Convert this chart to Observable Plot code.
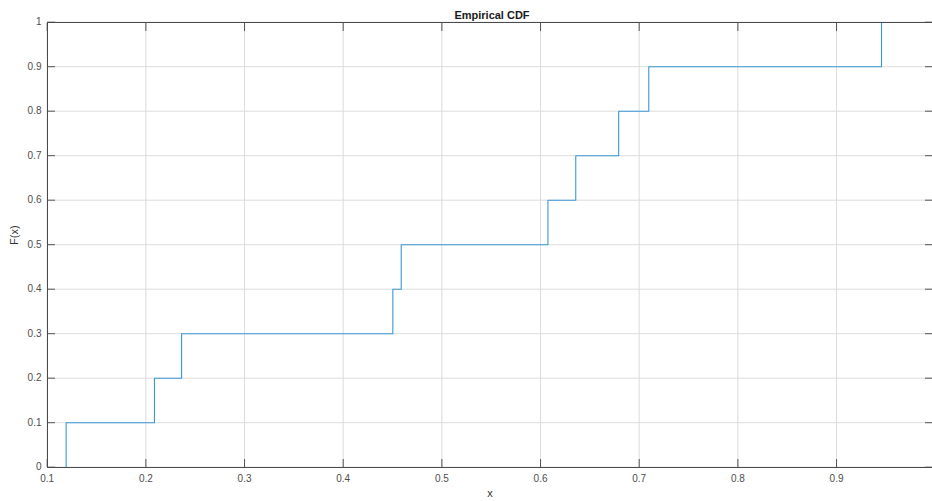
<!DOCTYPE html>
<html>
<head>
<meta charset="utf-8">
<script src="https://cdn.jsdelivr.net/npm/d3@7"></script>
<script src="https://cdn.jsdelivr.net/npm/@observablehq/plot@0.6"></script>
<style>
  html, body { margin: 0; padding: 0; background: #fff; }
  #chart svg { display: block; overflow: visible; }
</style>
</head>
<body>
<div id="chart"></div>
<script>
// Sorted sample values (jump locations of the empirical CDF)
const sampleX = [0.1192, 0.2087, 0.2362, 0.4503, 0.4588, 0.6075, 0.6357, 0.6792, 0.7097, 0.9456];
// CDF level reached at each jump
const cdfF = [0.1, 0.2, 0.3, 0.4, 0.5, 0.6, 0.7, 0.8, 0.9, 1.0];
const xTicks = [0.1, 0.2, 0.3, 0.4, 0.5, 0.6, 0.7, 0.8, 0.9];
const yTicks = [0, 0.1, 0.2, 0.3, 0.4, 0.5, 0.6, 0.7, 0.8, 0.9, 1];
const titleText = "Empirical CDF";
const xLabel = "x";
const yLabel = "F(x)";

// stairs: start at (x0, 0), then each (x_i, F_i)
const stairs = [{x: sampleX[0], y: 0}].concat(sampleX.map((x, i) => ({x, y: cdfF[i]})));

const W = 932, H = 501;
const mL = 47, mT = 22, mB = 34;
const fmt = d3.format("~g");
const font = "'Liberation Sans', Arial, Helvetica, sans-serif";
const axisColor = "#555";

const plot = Plot.plot({
  width: W,
  height: H,
  marginLeft: mL,
  marginTop: mT,
  marginBottom: mB,
  marginRight: 0,
  style: {fontFamily: font, fontSize: "10px", color: "#4d4d4d", background: "#fff", overflow: "visible"},
  x: {domain: [0.1, 1.0], range: [46.7, 934.7]},
  y: {domain: [0, 1], range: [466.7, 21.7]},
  marks: [
    Plot.gridX(xTicks, {stroke: "#dcdcdc", strokeOpacity: 1, strokeWidth: 1}),
    Plot.gridY(yTicks, {stroke: "#dcdcdc", strokeOpacity: 1, strokeWidth: 1}),
    // inward ticks on all four sides
    Plot.axisX(xTicks, {anchor: "bottom", tickSize: 8, dy: -8, text: null, label: null, stroke: axisColor}),
    Plot.axisX(xTicks, {anchor: "top", tickSize: 8, dy: 8, text: null, label: null, stroke: axisColor}),
    Plot.axisY(yTicks, {anchor: "left", tickSize: 8, dx: 8, text: null, label: null, stroke: axisColor}),
    Plot.axisY(yTicks, {anchor: "right", tickSize: 8, dx: -8, text: null, label: null, stroke: axisColor}),
    // tick labels
    Plot.axisX(xTicks, {anchor: "bottom", tickSize: 0, tickPadding: 7, tickFormat: fmt, fill: "#4d4d4d", label: null}),
    Plot.axisY(yTicks, {anchor: "left", tickSize: 0, tickPadding: 6, tickFormat: fmt, fill: "#4d4d4d", label: null}),
    Plot.line(stairs, {x: "x", y: "y", curve: "step-after", stroke: "#3d97d6", strokeWidth: 1.1}),
    Plot.frame({stroke: "#4a4a4a", strokeWidth: 1}),
    // title and axis titles
    Plot.text([titleText], {frameAnchor: "top", dy: -11, dx: 2, text: d => d, fontWeight: "bold", fontSize: 11, fill: "#1a1a1a"}),
    Plot.text([xLabel], {frameAnchor: "bottom", dy: 29, dx: 0, text: d => d, fontSize: 11, fill: "#333"}),
    Plot.text([yLabel], {frameAnchor: "left", dx: -33, dy: 0, rotate: -90, text: d => d, fontSize: 11, fill: "#333"})
  ]
});
document.getElementById("chart").appendChild(plot);
</script>
</body>
</html>
